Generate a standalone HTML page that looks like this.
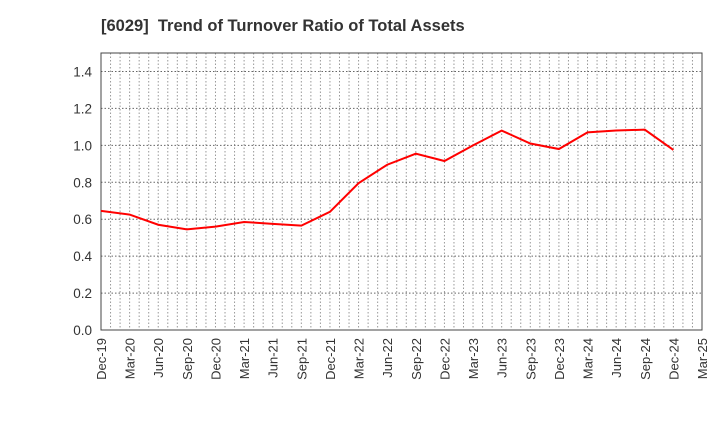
<!DOCTYPE html>
<html><head><meta charset="utf-8"><style>
body{margin:0;background:#fff;font-family:"Liberation Sans",sans-serif;}
</style></head><body>
<svg id="chart" width="720" height="440" xmlns="http://www.w3.org/2000/svg">
<text x="101" y="31" font-size="16.5" font-weight="bold" fill="#333" xml:space="preserve" style="white-space:pre">[6029]  Trend of Turnover Ratio of Total Assets</text>
<g id="grid"></g><g id="axes"></g><g id="series"></g>
</svg>
<script>
const categories=["Dec-19","Mar-20","Jun-20","Sep-20","Dec-20","Mar-21","Jun-21","Sep-21","Dec-21","Mar-22","Jun-22","Sep-22","Dec-22","Mar-23","Jun-23","Sep-23","Dec-23","Mar-24","Jun-24","Sep-24","Dec-24","Mar-25"];
const values=[0.645,0.625,0.57,0.545,0.56,0.585,0.575,0.565,0.64,0.795,0.895,0.955,0.915,1.0,1.08,1.01,0.98,1.07,1.08,1.085,0.975];
const yTicks=[0,0.2,0.4,0.6,0.8,1.0,1.2,1.4];
const L=101,R=702,T=53,B=330,yMax=1.5;
const NS="http://www.w3.org/2000/svg";
const xs=i=>L+(R-L)*i/(categories.length-1);
const ys=v=>B-(B-T)*v/yMax;
function mk(tag,attrs,parent){const e=document.createElementNS(NS,tag);for(const k in attrs)e.setAttribute(k,attrs[k]);parent.appendChild(e);return e;}
const grid=document.getElementById('grid'),axes=document.getElementById('axes'),series=document.getElementById('series');
const nMonths=(categories.length-1)*3;
for(let m=1;m<nMonths;m++){const x=L+(R-L)*m/nMonths;
const g=mk('line',{x1:x,x2:x,y1:T,y2:B,stroke:'#999','stroke-dasharray':'1.5,2','stroke-width':1},grid);

}
yTicks.forEach(v=>{const y=ys(v);
const g=mk('line',{x1:L,x2:R,y1:y,y2:y,stroke:'#666','stroke-dasharray':'1.5,2','stroke-width':1},grid);


const t=mk('text',{x:L-9,y:y+5,'text-anchor':'end','font-size':13.5,fill:'#333'},axes);t.textContent=v.toFixed(1);

});
const fr=mk('rect',{x:L,y:T,width:R-L,height:B-T,fill:'none',stroke:'#444','stroke-width':1},axes);


categories.forEach((c,i)=>{const x=xs(i);
const t=mk('text',{x:x+5,y:B+8,'text-anchor':'end','font-size':13,fill:'#333',transform:`rotate(-90 ${x+5} ${B+8})`},axes);t.textContent=c;

});
const pts=values.map((v,i)=>xs(i)+','+ys(v)).join(' ');
const pl=mk('polyline',{points:pts,fill:'none',stroke:'#f00','stroke-width':2},series);


</script>
</body></html>
